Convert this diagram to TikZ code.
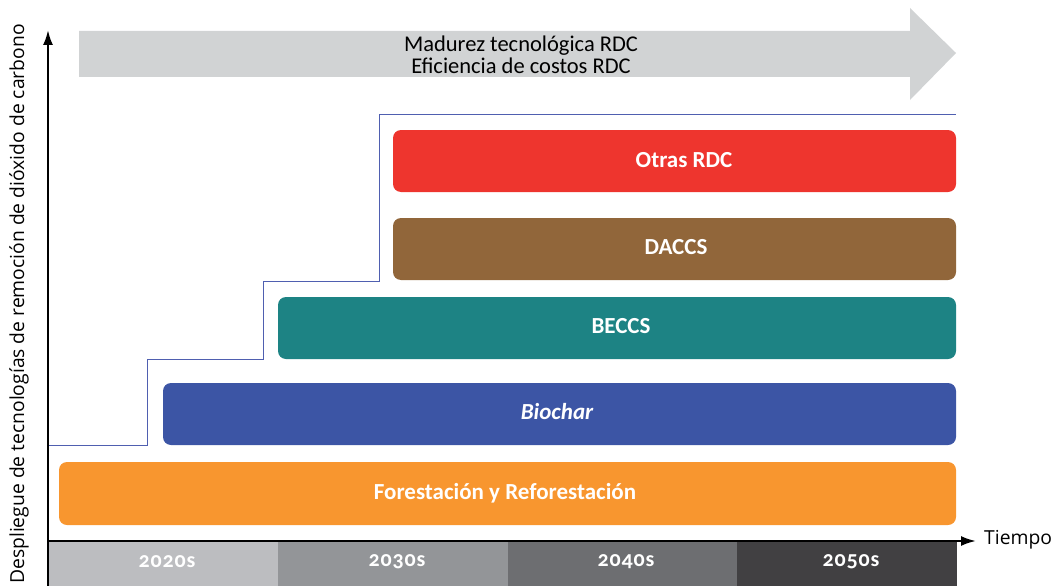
\documentclass[tikz,border=0pt]{standalone}
\usetikzlibrary{arrows.meta}
\usepackage{fontspec}
\setmainfont{Carlito}
\newfontfamily\axisfont{Open Sans}
\newfontfamily\yearfont[Numbers=OldStyle,LetterSpace=4]{Carlito}
\definecolor{arrowgray}{HTML}{D1D3D4}
\definecolor{stepblue}{HTML}{4F5FB0}
\definecolor{cred}{HTML}{EE352E}
\definecolor{cbrown}{HTML}{91663A}
\definecolor{cteal}{HTML}{1D8384}
\definecolor{cblue}{HTML}{3C55A5}
\definecolor{corange}{HTML}{F8962F}
\definecolor{y1}{HTML}{BCBDC0}
\definecolor{y2}{HTML}{939598}
\definecolor{y3}{HTML}{6D6E71}
\definecolor{y4}{HTML}{414042}
\begin{document}
\begin{tikzpicture}[x=1pt,y=-1pt,
  bar/.style={rounded corners=8pt, inner sep=0pt, text=white, font=\fontsize{23}{24}\selectfont\bfseries},
  yearbox/.style={inner sep=0pt, text=white, font=\yearfont\fontsize{22}{24}\selectfont\bfseries},
  axis/.style={line width=2.2pt, -{Latex[length=15pt,width=10pt]}},
  stepline/.style={draw=stepblue, line width=1pt}]
\useasboundingbox (0,0) rectangle (1055,586);
% year boxes
\fill[y1] (48,542) rectangle (278,586);
\fill[y2] (278,542) rectangle (508,586);
\fill[y3] (508,542) rectangle (737,586);
\fill[y4] (737,542) rectangle (957,586);
\node[yearbox] (d20) at (167,562) {2020s};
\node[yearbox] (d30) at (397,562) {2030s};
\node[yearbox] (d40) at (626,562) {2040s};
\node[yearbox] (d50) at (851,562) {2050s};
% big arrow
\fill[arrowgray] (79,31) -- (910,31) -- (910,8) -- (956,53) -- (910,100) -- (910,77) -- (79,77) -- cycle;
\node[align=center, font=\fontsize{22.5}{22}\selectfont, inner sep=0pt] (mat) at (521,55) {Madurez tecnológica RDC\\Eficiencia de costos RDC};
% step line
\draw[stepline] (48,445) -- (147,445) -- (147,359) -- (263,359) -- (263,281) -- (379,281) -- (379,114) -- (956,114);
% bars
\fill[cred, rounded corners=8pt] (393,130) rectangle (956,192);
\node[bar] (otras) at (684,160) {Otras RDC};
\fill[cbrown, rounded corners=8pt] (393,218) rectangle (956,280);
\node[bar] (daccs) at (676,247) {DACCS};
\fill[cteal, rounded corners=8pt] (278,297) rectangle (956,359);
\node[bar] (beccs) at (621,326) {BECCS};
\fill[cblue, rounded corners=8pt] (163,383) rectangle (956,445);
\node[bar, font=\fontsize{23}{24}\selectfont\bfseries\itshape] (bio) at (557,412) {Biochar};
\fill[corange, rounded corners=8pt] (59,462) rectangle (956,525);
\node[bar] (fore) at (505,493) {Forestación y Reforestación};
% axes
\coordinate (origin) at (48,541);
\coordinate (ytip) at (48,30);
\coordinate (xtip) at (976,541);
\draw[axis] (48,586) -- (ytip);
\draw[axis] (origin) -- (xtip);
\node[anchor=west, font=\axisfont\fontsize{19.3}{20}\selectfont, inner sep=0pt] (tiempo) at (984,540) {Tiempo};
\node[rotate=90, font=\axisfont\fontsize{19.3}{20}\selectfont, inner sep=0pt] (ylab) at (19,304) {Despliegue de tecnologías de remoción de dióxido de carbono};
\end{tikzpicture}
\end{document}
